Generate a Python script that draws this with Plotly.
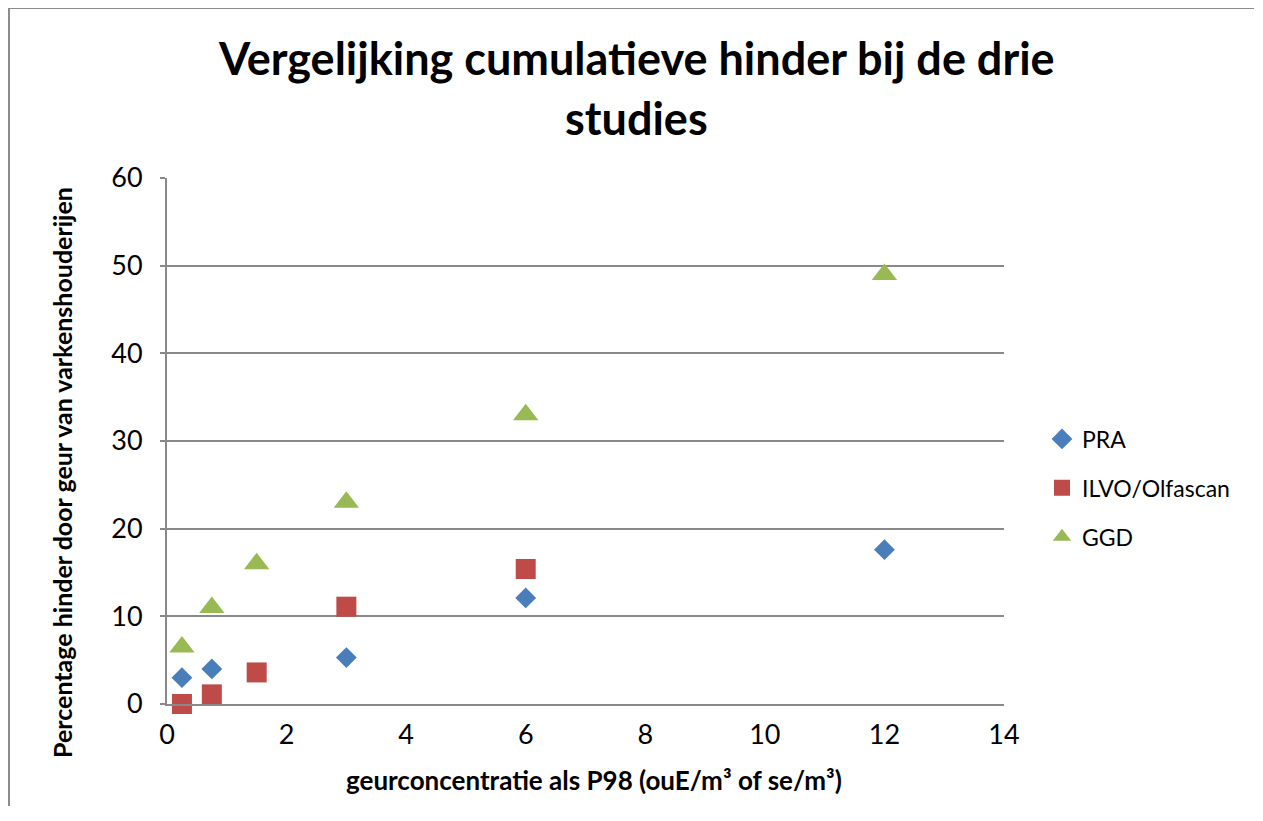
import plotly.graph_objects as go

# Data
pra_x = [0.25, 0.75, 3, 6, 12]
pra_y = [3.0, 4.0, 5.3, 12.1, 17.6]
ilvo_x = [0.25, 0.75, 1.5, 3, 6]
ilvo_y = [0.0, 1.1, 3.6, 11.1, 15.4]
ggd_x = [0.25, 0.75, 1.5, 3, 6, 12]
ggd_y = [6.5, 11.0, 16.0, 23.0, 33.0, 49.0]

series_names = ["PRA", "ILVO/Olfascan", "GGD"]
title_lines = ["Vergelijking cumulatieve hinder bij de drie", "studies"]
x_title = "geurconcentratie als P98 (ouE/m³ of se/m³)"
y_title = "Percentage hinder door geur van varkenshouderijen"

FONT = "Lato"
GRID = "#898989"

fig = go.Figure()
fig.add_trace(go.Scatter(x=pra_x, y=pra_y, mode="markers", name=series_names[0], legendgroup="a",
                         cliponaxis=False,
                         marker=dict(symbol="diamond", size=16, color="#4A7EBB")))
fig.add_trace(go.Scatter(x=ilvo_x, y=ilvo_y, mode="markers", name=series_names[1], legendgroup="b",
                         cliponaxis=False,
                         marker=dict(symbol="square", size=20, color="#BE4B48")))
fig.add_trace(go.Scatter(x=ggd_x, y=ggd_y, mode="markers", name=series_names[2], legendgroup="c",
                         cliponaxis=False,
                         marker=dict(symbol="triangle-up", size=22, color="#98B954")))

# reference pixel geometry (page has an 8px body offset)
OFF = 8
L, R, T, B = 167, 1004, 178, 704
W, H = 1247, 800
pw, ph = R - L, B - T

def px(x):
    return (x - L) / pw

def py(y):
    return (B - y) / ph

fig.update_layout(
    width=W, height=H,
    margin=dict(l=L - OFF, r=W - (R - OFF), t=T - OFF, b=H - (B - OFF), pad=0),
    paper_bgcolor="white", plot_bgcolor="white",
    font=dict(family=FONT, color="#000000"),
    showlegend=True,
    legend=dict(x=px(1042), y=py(488), xanchor="left", yanchor="middle",
                font=dict(size=23, family=FONT), itemsizing="trace",
                tracegroupgap=16, itemwidth=30, bgcolor="rgba(0,0,0,0)"),
    xaxis=dict(range=[0, 14], dtick=2, tick0=0, showgrid=False, zeroline=False,
               showline=True, linecolor=GRID, linewidth=2, ticks="",
               tickfont=dict(size=27, family=FONT), ticklabelstandoff=6),
    yaxis=dict(range=[0, 60], dtick=10, tick0=0, showgrid=True, gridcolor=GRID,
               gridwidth=2, zeroline=False, showline=True, linecolor=GRID,
               linewidth=2, ticks="outside", ticklen=5, tickcolor=GRID, tickwidth=2,
               tickfont=dict(size=27, family=FONT), ticklabelstandoff=12),
)

annotations = [
    dict(text="<b>" + title_lines[0] + "</b>", x=px(636), y=py(58), xref="paper", yref="paper",
         xanchor="center", yanchor="middle", showarrow=False, font=dict(size=45, family=FONT)),
    dict(text="<b>" + title_lines[1] + "</b>", x=px(636), y=py(118), xref="paper", yref="paper",
         xanchor="center", yanchor="middle", showarrow=False, font=dict(size=45, family=FONT)),
    dict(text="<b>" + x_title + "</b>", x=px(594), y=py(780), xref="paper", yref="paper",
         xanchor="center", yanchor="middle", showarrow=False, font=dict(size=26, family=FONT)),
    dict(text="<b>" + y_title + "</b>", x=px(62), y=py(473), xref="paper", yref="paper",
         xanchor="center", yanchor="middle", showarrow=False, textangle=-90,
         font=dict(size=25, family=FONT)),
]
fig.update_layout(annotations=annotations)

# outer chart border: left edge and top edge as two separate lines
fig.add_shape(type="line", xref="paper", yref="paper",
              x0=px(9), x1=px(9), y0=py(806), y1=py(8),
              line=dict(color="#8C8C8C", width=2))
fig.add_shape(type="line", xref="paper", yref="paper",
              x0=px(8), x1=px(1254), y0=py(8), y1=py(8),
              line=dict(color="#8C8C8C", width=2))

fig.write_html("out.html")
